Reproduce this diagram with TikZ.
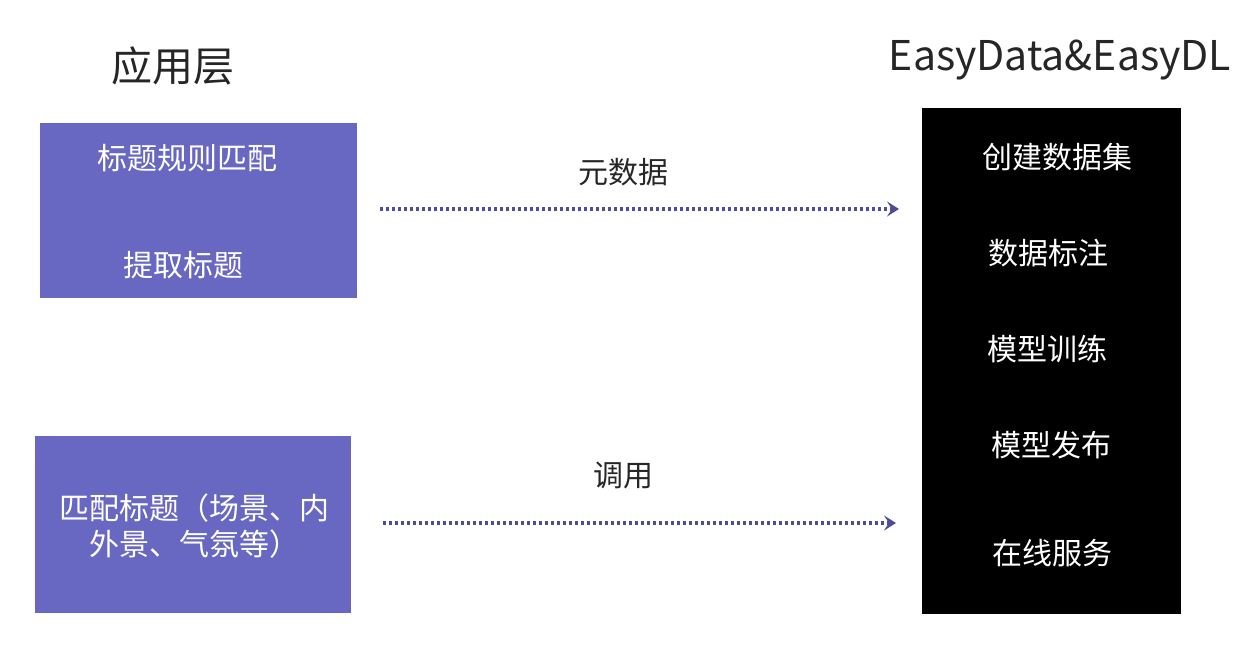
\documentclass[tikz,border=0pt]{standalone}
\usepackage{fontspec}
\setmainfont{Noto Sans CJK SC}
\usetikzlibrary{arrows.meta}
\definecolor{boxblue}{RGB}{104,104,194}
\definecolor{arrowblue}{RGB}{78,76,150}
\begin{document}
\begin{tikzpicture}[x=1pt,y=-1pt,
  bluebox/.style={fill=boxblue,draw=none,inner sep=0pt},
  blackbox/.style={fill=black,draw=none,inner sep=0pt},
  wtext/.style={text=white,font=\fontsize{30}{36}\selectfont,inner sep=0pt},
  ktext/.style={text=black!85,font=\fontsize{30}{36}\selectfont,inner sep=0pt},
  ttext/.style={text=black!85,font=\fontsize{41}{46}\selectfont,inner sep=0pt},
  flow/.style={arrowblue,line width=3.5pt,dash pattern=on 3pt off 3pt,-{Stealth[length=12pt,width=15pt,inset=5pt]}}]
\useasboundingbox[fill=white] (0,0) rectangle (1258,660);
\node[ttext] (t1) at (173,66) {应用层};
\node[ttext] (t2) at (1060,60) {EasyData\&EasyDL};
\node[bluebox,minimum width=317pt,minimum height=175pt] (b1) at (198.5,210.5) {};
\node[bluebox,minimum width=316pt,minimum height=177pt] (b2) at (193,524.5) {};
\node[blackbox,minimum width=259pt,minimum height=506pt] (bk) at (1051.5,361) {};
\node[wtext] (l1) at (187,158) {标题规则匹配};
\node[wtext] (l2) at (183,265) {提取标题};
\node[wtext,align=center] (l3) at (194,526) {匹配标题（场景、内\\外景、气氛等）};
\node[wtext] (r1) at (1057,157) {创建数据集};
\node[wtext] (r2) at (1048,253) {数据标注};
\node[wtext] (r3) at (1047,349) {模型训练};
\node[wtext] (r4) at (1051,445) {模型发布};
\node[wtext] (r5) at (1052,553) {在线服务};
\coordinate (a1s) at (380,209);
\coordinate (a1e) at (899,209);
\coordinate (a2s) at (383,523);
\coordinate (a2e) at (896,523);
\draw[flow] (a1s) -- (a1e);
\draw[flow] (a2s) -- (a2e);
\node[ktext] (m1) at (623,172) {元数据};
\node[ktext] (m2) at (623,476) {调用};
\end{tikzpicture}
\end{document}
